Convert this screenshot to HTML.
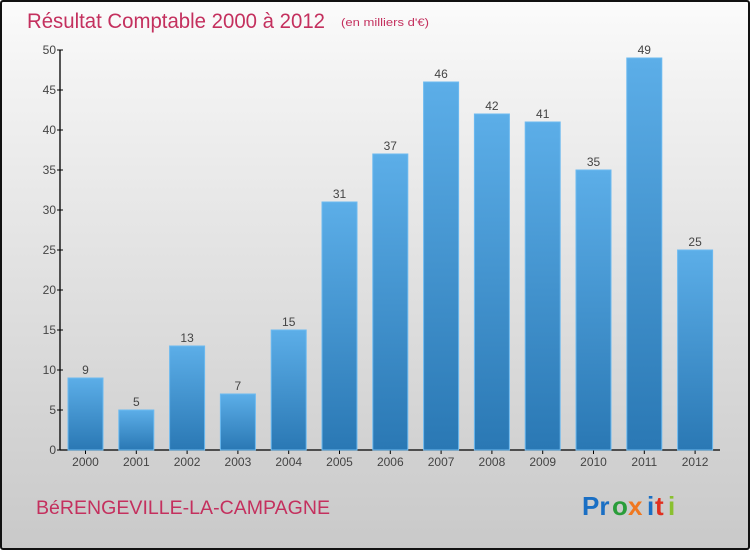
<!DOCTYPE html>
<html><head><meta charset="utf-8"><style>
html,body{margin:0;padding:0}
body{width:750px;height:550px;overflow:hidden;font-family:"Liberation Sans",sans-serif}
#wrap{position:relative;width:746px;height:546px;border:2px solid #111;border-radius:3px;background:linear-gradient(#fbfbfb,#f2f2f2 15%,#dcdcdc 60%,#c9c9c9)}
</style></head><body>
<div id="wrap">
<svg width="746" height="546" viewBox="2 2 746 546" id="svg">
<defs><linearGradient id="bg" x1="0" y1="0" x2="0" y2="1"><stop offset="0" stop-color="#5caee8"/><stop offset="1" stop-color="#2a78b4"/></linearGradient></defs>
<text x="27" y="28" font-size="21" fill="#c4305e" textLength="298" lengthAdjust="spacingAndGlyphs">Résultat Comptable 2000 à 2012</text>
<text x="341" y="26" font-size="11" fill="#c4305e" textLength="88" lengthAdjust="spacingAndGlyphs">(en milliers d'€)</text>
<g id="axes"></g><g id="bars"></g>
<text x="36" y="514" font-size="19" fill="#c4305e" textLength="294" lengthAdjust="spacingAndGlyphs">BéRENGEVILLE-LA-CAMPAGNE</text>
<g font-size="26" font-weight="bold">
<text x="582" y="515" fill="#1a6fc4">Pr</text><text x="612" y="515" fill="#2a9d3a">o</text><text x="628" y="515" fill="#f07820">x</text><text x="647" y="515" fill="#1a6fc4">i</text><text x="655" y="515" fill="#e03020">t</text><text x="668" y="515" fill="#8ac030">i</text>
</g>
</svg></div>
<script>
const years=["2000","2001","2002","2003","2004","2005","2006","2007","2008","2009","2010","2011","2012"];
const values=[9,5,13,7,15,31,37,46,42,41,35,49,25];
const yTicks=[0,5,10,15,20,25,30,35,40,45,50];
const NS="http://www.w3.org/2000/svg";
const y0=450,yTop=50,yMax=50,x0=60,x1=720,step=50.8,bw=35;
const y=v=>y0-(v/yMax)*(y0-yTop);
const xc=i=>85.5+i*step;
function mk(t,a,p){const e=document.createElementNS(NS,t);for(const k in a)e.setAttribute(k,a[k]);p.appendChild(e);return e;}
const ax=document.getElementById('axes'),bars=document.getElementById('bars');
const yl=mk('line',{x1:x0,y1:yTop,x2:x0,y2:y0,stroke:'#000','stroke-width':1.3},ax);


const xl=mk('line',{x1:x0,y1:y0,x2:x1,y2:y0,stroke:'#000','stroke-width':1.3},ax);


yTicks.forEach(t=>{
  mk('line',{x1:x0-3,x2:x0+3,y1:y(t),y2:y(t),stroke:'#000'},ax);
  const tx=mk('text',{x:x0-4,y:y(t)+4,'font-size':12,'text-anchor':'end',fill:'#444'},ax);tx.textContent=t;
  
  
});
years.forEach((yr,i)=>{
  const v=values[i];
  const r=mk('rect',{x:xc(i)-bw/2,y:y(v),width:bw,height:y0-y(v),fill:'url(#bg)',stroke:'#6cbaf0','stroke-width':1},bars);
  
  
  const vl=mk('text',{x:xc(i),y:y(v)-4,'font-size':12,'text-anchor':'middle',fill:'#444'},bars);vl.textContent=v;
  
  
  mk('line',{x1:xc(i),x2:xc(i),y1:y0,y2:y0+4,stroke:'#000'},ax);
  const xt=mk('text',{x:xc(i),y:y0+16,'font-size':12,'text-anchor':'middle',fill:'#444'},ax);xt.textContent=yr;
  
  
});
</script>
</body></html>
